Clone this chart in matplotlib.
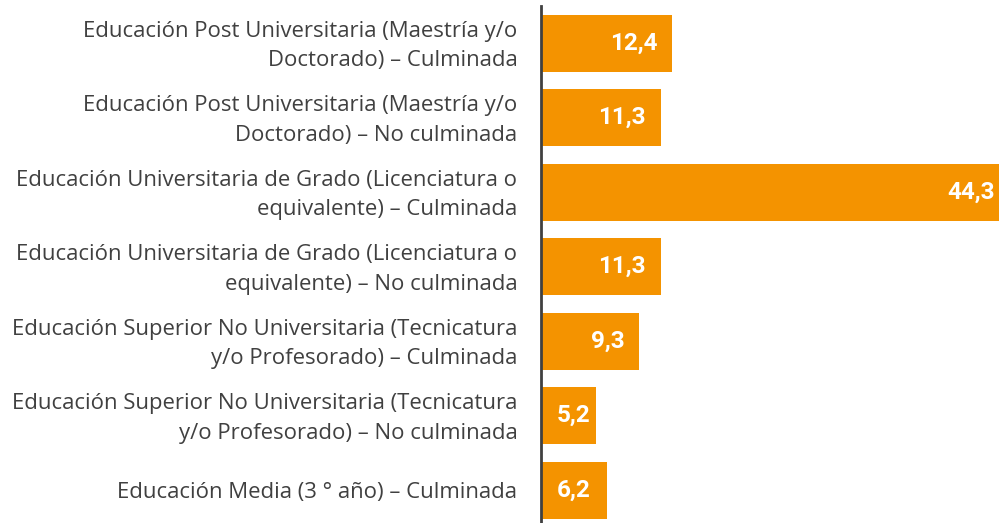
import matplotlib.pyplot as plt
from matplotlib.transforms import ScaledTranslation

categories = [
    "Educación Post Universitaria (Maestría y/o\nDoctorado) – Culminada",
    "Educación Post Universitaria (Maestría y/o\nDoctorado) – No culminada",
    "Educación Universitaria de Grado (Licenciatura o\nequivalente) – Culminada",
    "Educación Universitaria de Grado (Licenciatura o\nequivalente) – No culminada",
    "Educación Superior No Universitaria (Tecnicatura\ny/o Profesorado) – Culminada",
    "Educación Superior No Universitaria (Tecnicatura\ny/o Profesorado) – No culminada",
    "Educación Media (3 ° año) – Culminada",
]
values = [12.4, 11.3, 44.3, 11.3, 9.3, 5.2, 6.2]
value_labels = ["12,4", "11,3", "44,3", "11,3", "9,3", "5,2", "6,2"]

orange = "#F49300"
gray = "#404040"

fig = plt.figure(figsize=(9.99, 5.23), dpi=100)
ax = fig.add_axes([541 / 999, -4.5 / 523, 1 - 541 / 999, 521.5 / 523])

y = list(range(len(values)))
ax.barh(y, values, height=0.765, color=orange)
ax.set_ylim(len(values) - 0.5, -0.5)
ax.set_xlim(0, 43.3)

for yi, v, lab in zip(y, values, value_labels):
    if v - 1.4 > 5.0:
        ax.text(v - 1.4, yi, lab, ha="right", va="center", color="white",
                fontsize=17.5, fontweight="bold", family="Roboto")
    else:
        ax.text(1.5, yi, lab, ha="left", va="center", color="white",
                fontsize=17.5, fontweight="bold", family="Roboto")

ax.set_yticks(y)
ax.set_yticklabels(categories, fontsize=15.9, color=gray, family="Open Sans",
                   linespacing=1.52, ha="right")
ax.tick_params(axis="y", length=0, pad=17)
# nudge two-line labels up a little
for lbl in ax.get_yticklabels():
    if "\n" in lbl.get_text():
        lbl.set_transform(lbl.get_transform() + ScaledTranslation(0, 0.04, fig.dpi_scale_trans))
ax.set_xticks([])
for s in ["top", "right", "bottom"]:
    ax.spines[s].set_visible(False)
ax.spines["left"].set_color(gray)
ax.spines["left"].set_linewidth(2)

fig.savefig("out.png", dpi=100)
